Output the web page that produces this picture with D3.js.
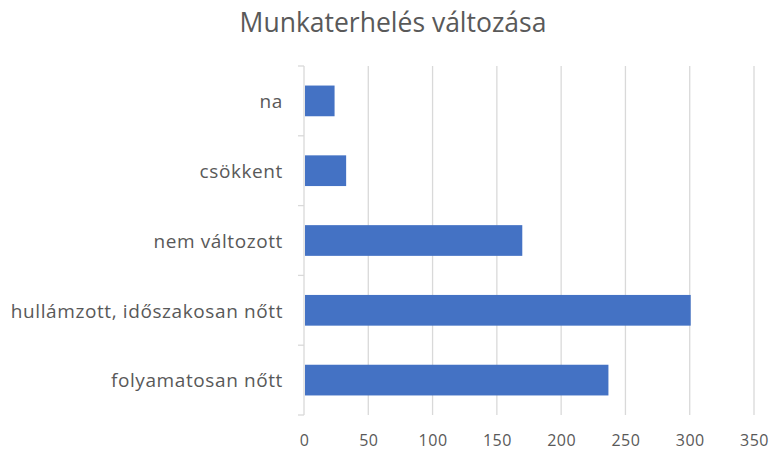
<!DOCTYPE html>
<html>
<head>
<meta charset="utf-8">
<script src="https://cdn.jsdelivr.net/npm/d3@7"></script>
<style>
  body { margin: 0; background: #fff; }
  text { font-family: "Open Sans", sans-serif; fill: #595959; }
</style>
</head>
<body>
<div id="chart"></div>
<script>
var svgWidth = 773;
var svgHeight = 451;

var margin = { top: 66, right: 19, bottom: 36, left: 304 };
var width = svgWidth - margin.left - margin.right;
var height = svgHeight - margin.top - margin.bottom;

// data
var categories = ["na", "csökkent", "nem változott", "hullámzott, időszakosan nőtt", "folyamatosan nőtt"];
var values = [23, 32, 169, 300, 236];
var xTicks = [0, 50, 100, 150, 200, 250, 300, 350];

var svg = d3.select("#chart")
  .append("svg")
  .attr("width", svgWidth)
  .attr("height", svgHeight);

var chartGroup = svg.append("g")
  .attr("transform", `translate(${margin.left}, ${margin.top})`);

var xScale = d3.scaleLinear()
  .domain([0, 350])
  .range([0, width]);

var yScale = d3.scaleBand()
  .domain(categories)
  .range([0, height])
  .paddingInner(0.56)
  .paddingOuter(0.28);

// gridlines
chartGroup.append("g")
  .selectAll("line")
  .data(xTicks.slice(1))
  .enter()
  .append("line")
  .attr("x1", d => xScale(d))
  .attr("x2", d => xScale(d))
  .attr("y1", 0)
  .attr("y2", height)
  .attr("stroke", "#d9d9d9")
  .attr("stroke-width", 1.3);

// x axis labels
var bottomAxis = d3.axisBottom(xScale)
  .tickValues(xTicks)
  .tickSize(0)
  .tickPadding(20);

var xAxis = chartGroup.append("g")
  .attr("transform", `translate(0, ${height})`)
  .call(bottomAxis);
xAxis.select(".domain").remove();
xAxis.selectAll("text")
  .style("font-family", "'Open Sans', sans-serif")
  .style("font-size", "16px")
  .style("letter-spacing", "0.5px")
  .attr("fill", "#595959");

// y axis with band boundary ticks
chartGroup.append("line")
  .attr("x1", 0).attr("x2", 0)
  .attr("y1", 0).attr("y2", height)
  .attr("stroke", "#d9d9d9")
  .attr("stroke-width", 1.3);

var boundaries = d3.range(categories.length + 1).map(i => i * height / categories.length);
chartGroup.append("g")
  .selectAll("line")
  .data(boundaries)
  .enter()
  .append("line")
  .attr("x1", -6).attr("x2", 0)
  .attr("y1", d => d).attr("y2", d => d)
  .attr("stroke", "#d9d9d9")
  .attr("stroke-width", 1.3);

chartGroup.append("g")
  .selectAll("text")
  .data(categories)
  .enter()
  .append("text")
  .attr("x", -21)
  .attr("y", d => yScale(d) + yScale.bandwidth() / 2)
  .attr("dy", "0.38em")
  .attr("text-anchor", "end")
  .style("font-size", "19px")
  .style("letter-spacing", "0.6px")
  .text(d => d);

// bars
chartGroup.append("g")
  .selectAll("rect")
  .data(values)
  .enter()
  .append("rect")
  .attr("x", xScale(0) + 1)
  .attr("y", (d, i) => yScale(categories[i]))
  .attr("width", d => xScale(d) - xScale(0))
  .attr("height", yScale.bandwidth())
  .attr("fill", "#4472c4");

// title
svg.append("text")
  .attr("x", 393)
  .attr("y", 32)
  .attr("text-anchor", "middle")
  .style("font-size", "26.5px")
  .text("Munkaterhelés változása");
</script>
</body>
</html>
